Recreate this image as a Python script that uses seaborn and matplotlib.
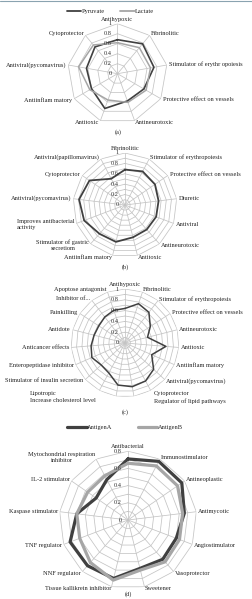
import numpy as np
import pandas as pd
import matplotlib
matplotlib.use("Agg")
import matplotlib.pyplot as plt
import seaborn as sns
from matplotlib.lines import Line2D

# ---------------- data ----------------
a_categories = ["Antihypoxic", "Fibrinolitic", "Stimulator of erythr opoiesis",
                "Protective effect on vessels", "Antineurotoxic", "Antitoxic",
                "Antiinflam matory", "Antiviral(pycomavirus)", "Cytoprotector"]
a_pyruvate = [0.68, 0.78, 0.74, 0.61, 0.58, 0.74, 0.60, 0.63, 0.70]
a_lactate = [0.62, 0.68, 0.67, 0.66, 0.61, 0.56, 0.64, 0.79, 0.75]
a_ticks = ["0", "0.2", "0.4", "0.6", "0.8", "1"]

b_categories = ["Fibrinolitic", "Stimulator of erythropoiesis", "Protective effect on vessels",
                "Diuretic", "Antiviral", "Antineurotoxic", "Antitoxic", "Antiinflam matory",
                "Stimulator of gastric\nsecretiom", "Improves antibacterial\nactivity",
                "Antiviral(pycomavirus)", "Cytoprotector", "Antiviral(papillomavirus)"]
b_values = [0.68, 0.73, 0.70, 0.65, 0.64, 0.63, 0.64, 0.73, 0.74, 0.84, 0.89, 0.83, 0.57]
b_ticks = ["0", "0.2", "0.4", "0.6", "0.8", "1"]

c_categories = ["Antihypoxic", "Fibrinolitic", "Stimulator of erythropoiesis",
                "Protective effect on vessels", "Antineurotoxic", "Antitoxic",
                "Antiinflam matory", "Antiviral(pycomavirus)", "Cytoprotector",
                "Regulator of lipid pathways", "Increase cholesterol level", "Lipotropic",
                "Stimulator of insulin secretion", "Enteropeptidase inhibitor",
                "Anticancer effects", "Antidote", "Painkilling", "Inhibitor of...",
                "Apoptose antagonist"]
c_values = [0.64, 0.77, 0.72, 0.56, 0.43, 0.76, 0.54, 0.72, 0.80,
            0.82, 0.79, 0.63, 0.60, 0.67, 0.63, 0.59, 0.58, 0.61, 0.64]
c_ticks = ["0", "0.2", "0.4", "0.6", "0.8", "1"]

d_categories = ["Antibacterial", "Immunostimulator", "Antineoplastic", "Antimycotic",
                "Angiostimulator", "Vasoprotector", "Sweetener", "Tissue kallikrein inhibitor",
                "NNF regulator", "TNF regulator", "Kaspase stimulator", "IL-2 stimulator",
                "Mytochondrial respiration\ninhibitor"]
d_antigenA = [0.71, 0.77, 0.76, 0.66, 0.60, 0.61, 0.58, 0.70, 0.71, 0.72, 0.60, 0.45, 0.53]
d_antigenB = [0.66, 0.71, 0.70, 0.64, 0.64, 0.65, 0.60, 0.72, 0.66, 0.60, 0.60, 0.57, 0.58]
d_ticks = ["0", "0.2", "0.4", "0.6", "0.8"]

# ---------------- style ----------------
sns.set_theme(style="white")
plt.rcParams["font.family"] = ["Liberation Serif", "DejaVu Serif"]
FS = 4.6
DARK = "#404040"
GRAY = "#a6a6a6"
GRID = "#c4c4c4"
W, H = 253, 599

fig = plt.figure(figsize=(W / 100, H / 100), dpi=100)
fig.patch.set_facecolor("white")


def px_axes(cx, cy, R):
    return fig.add_axes([(cx - R) / W, (H - cy - R) / H, 2 * R / W, 2 * R / H],
                        projection="polar")


def radar(ax, cats, series, rmax, ring_step, ticks, skip_labels=()):
    n = len(cats)
    ang = np.linspace(0, 2 * np.pi, n, endpoint=False)
    ax.set_theta_zero_location("N")
    ax.set_theta_direction(-1)
    ax.set_ylim(0, rmax)
    ax.grid(False)
    ax.set_xticks([])
    ax.set_yticks([])
    ax.spines["polar"].set_visible(False)
    ax.set_facecolor("none")
    closed = np.append(ang, ang[0] + 2 * np.pi)
    # polygon grid
    nr = int(round(rmax / ring_step))
    for k in range(1, nr + 1):
        r = k * ring_step
        ax.plot(closed, [r] * (n + 1), color=GRID, lw=0.55, zorder=1)
    for a in ang:
        ax.plot([a, a], [0, rmax], color=GRID, lw=0.55, zorder=1)
    # data
    frames = []
    for name, vals, color, lw in series:
        frames.append(pd.DataFrame({"theta": closed, "value": list(vals) + [vals[0]],
                                    "series": name}))
    df = pd.concat(frames, ignore_index=True)
    for name, vals, color, lw in series:
        sub = df[df["series"] == name]
        sns.lineplot(data=sub, x="theta", y="value", sort=False, estimator=None,
                     color=color, linewidth=lw, ax=ax, legend=False, zorder=3)
    ax.set_xlabel("")
    ax.set_ylabel("")
    # ring tick labels
    tick_vals = np.linspace(0, rmax, len(ticks))
    for t, v in zip(ticks, tick_vals):
        ax.annotate(t, xy=(0, v), xytext=(-4.3, 0), textcoords="offset points",
                    ha="right", va="center", fontsize=FS, color="#333333", zorder=4)
    # category labels
    for i, (a, c) in enumerate(zip(ang, cats)):
        if i in skip_labels:
            continue
        s, co = np.sin(a), np.cos(a)
        if abs(s) < 0.05:
            ha = "center"
            va = "bottom" if co > 0 else "top"
        else:
            ha = "left" if s > 0 else "right"
            va = "center"
        off = 1.5
        ax.annotate(c, xy=(a, rmax), xytext=(off * s, off * co), textcoords="offset points",
                    ha=ha, va=va, fontsize=FS, color="#222222",
                    multialignment="left" if "antibacterial" in c else "center",
                    annotation_clip=False)


def ftext(x, y, s, **kw):
    fig.text(x / W, 1 - y / H, s, fontsize=FS, color="#222222", **kw)


# (a)
axa = px_axes(117.5, 73.7, 50)
radar(axa, a_categories, [("Pyruvate", a_pyruvate, DARK, 1.2),
                          ("Lactate", a_lactate, GRAY, 1.1)], 1.0, 0.2, a_ticks)
fig.legend(handles=[Line2D([], [], color=DARK, lw=1.3), Line2D([], [], color=GRAY, lw=1.3)],
           labels=["Pyruvate", "Lactate"], loc="center", bbox_to_anchor=(110.5 / W, 1 - 11.5 / H),
           ncol=2, frameon=False, fontsize=FS, handlelength=2.2, handletextpad=0.1,
           columnspacing=2.5, borderpad=0)
ftext(118, 132, "(a)", ha="center", va="center")

# (b)
axb = px_axes(125, 205, 52)
radar(axb, b_categories, [("b", b_values, DARK, 1.3)], 1.0, 0.1, b_ticks)
ftext(125, 267, "(b)", ha="center", va="center")

# (c)
axc = px_axes(125, 343, 54)
radar(axc, c_categories, [("c", c_values, DARK, 1.1)], 1.0, 0.1, c_ticks,
      skip_labels=(8, 9, 10, 11))
ftext(154, 393, c_categories[8], ha="left", va="center")
ftext(154, 401, c_categories[9], ha="left", va="center")
ftext(30, 393, c_categories[11], ha="left", va="center")
ftext(30, 401, c_categories[10], ha="left", va="center")
ftext(125, 412, "(c)", ha="center", va="center")

# (d)
axd = px_axes(128, 520, 68.8)
radar(axd, d_categories, [("AntigenA", d_antigenA, DARK, 2.3),
                          ("AntigenB", d_antigenB, GRAY, 2.3)], 0.8, 0.1, d_ticks)
fig.legend(handles=[Line2D([], [], color=DARK, lw=2.3), Line2D([], [], color=GRAY, lw=2.3)],
           labels=["AntigenA", "AntigenB"], loc="center", bbox_to_anchor=(125 / W, 1 - 427.5 / H),
           ncol=2, frameon=False, fontsize=FS, handlelength=3.1, handletextpad=0.1,
           columnspacing=3.9, borderpad=0)
ftext(128, 594.5, "(d)", ha="center", va="center")

fig.add_artist(Line2D([0, 1], [1 - 0.5 / H, 1 - 0.5 / H], color="#8aa3b0", lw=0.8,
                      transform=fig.transFigure))

fig.savefig("out.png", dpi=100, facecolor="white")
